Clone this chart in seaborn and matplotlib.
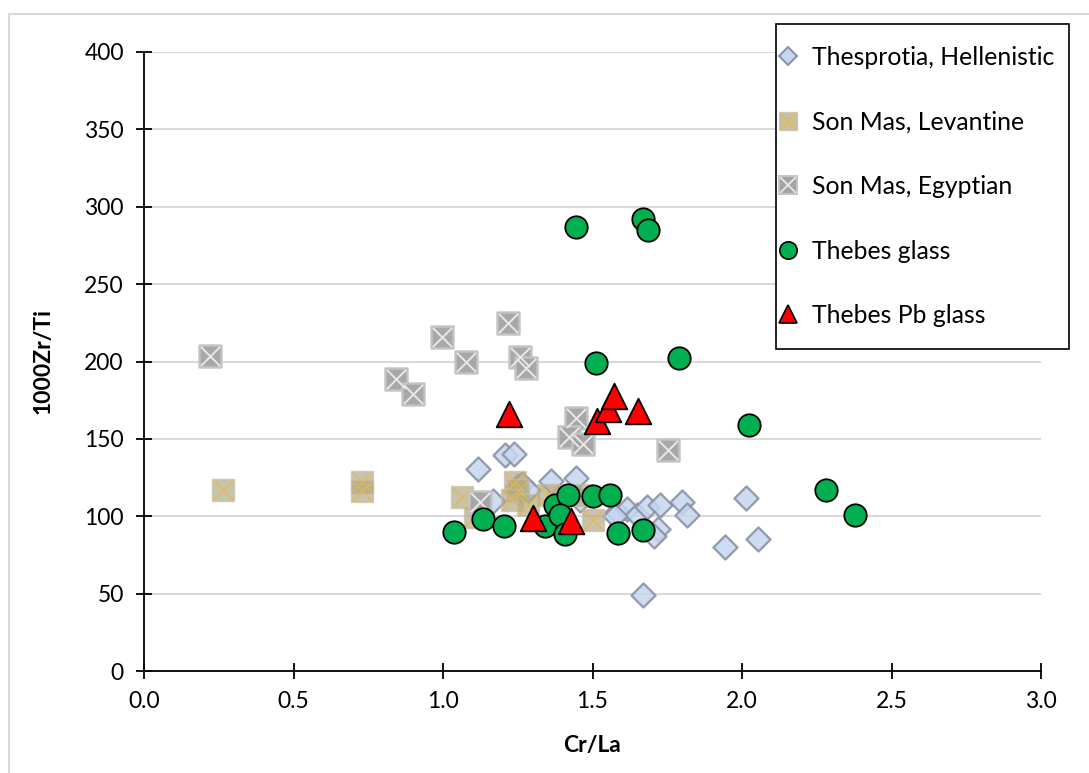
import numpy as np
import pandas as pd
import matplotlib
matplotlib.use("Agg")
import matplotlib.pyplot as plt
import seaborn as sns
from matplotlib.lines import Line2D
from matplotlib.patches import Rectangle

sns.set_theme(style="white")
plt.rcParams['font.family'] = ['Lato', 'DejaVu Sans']
plt.rcParams['text.color'] = 'black'
plt.rcParams['axes.labelcolor'] = 'black'
plt.rcParams['xtick.color'] = 'black'
plt.rcParams['ytick.color'] = 'black'

# ---------------- data ----------------
thes_x = [1.117, 1.207, 1.237, 1.167, 1.361, 1.445, 1.251, 1.264, 1.284, 1.458,
          1.582, 1.615, 1.649, 1.682, 1.726, 1.799, 1.816, 1.719, 1.706, 2.013,
          1.943, 2.054, 1.669, 1.575]
thes_y = [130.5, 139.5, 140, 110, 123, 125, 119.5, 121, 117, 110.5,
          103, 105, 101, 106, 107, 109, 101, 92, 87, 112,
          80, 85, 49, 100]

lev_x = [0.264, 0.729, 0.729, 1.064, 1.107, 1.241, 1.251, 1.231, 1.284, 1.351, 1.452, 1.502]
lev_y = [117, 122, 116, 112.5, 99.5, 122, 117, 110.5, 107, 114, 114, 97.5]

egy_x = [0.221, 0.997, 1.077, 0.843, 0.900, 1.217, 1.258, 1.278, 1.445, 1.421, 1.468, 1.753, 1.124]
egy_y = [203.5, 216, 200, 189, 179, 225, 203, 196, 163.5, 151, 147, 143, 109]

theb_x = [1.445, 1.669, 1.686, 1.512, 1.789, 2.023, 2.281, 2.378, 1.037, 1.134,
          1.204, 1.341, 1.375, 1.418, 1.391, 1.408, 1.502, 1.559, 1.585, 1.669]
theb_y = [287, 292, 285, 199, 202, 159, 117, 101, 90, 98,
          94, 94, 107, 114, 101, 88.5, 113, 114, 89, 91]

pb_x = [1.221, 1.515, 1.552, 1.572, 1.652, 1.301, 1.428]
pb_y = [166, 161.5, 169, 178, 168, 99, 97]

labels = ["Thesprotia, Hellenistic", "Son Mas, Levantine", "Son Mas, Egyptian",
          "Thebes glass", "Thebes Pb glass"]
x_ticks = [0.0, 0.5, 1.0, 1.5, 2.0, 2.5, 3.0]
y_ticks = [0, 50, 100, 150, 200, 250, 300, 350, 400]

df_thes = pd.DataFrame({"x": thes_x, "y": thes_y})
df_lev = pd.DataFrame({"x": lev_x, "y": lev_y})
df_egy = pd.DataFrame({"x": egy_x, "y": egy_y})
df_theb = pd.DataFrame({"x": theb_x, "y": theb_y})
df_pb = pd.DataFrame({"x": pb_x, "y": pb_y})

W, H = 1089, 773

# ---------------- figure ----------------
fig = plt.figure(figsize=(W/100, H/100), dpi=100)
ax = fig.add_axes([144/W, 1-671/H, (1041-144)/W, (671-52)/H])

ax.set_xlim(0, 3.0)
ax.set_ylim(0, 400)
ax.set_yticks(y_ticks)
ax.set_xticks(x_ticks)
ax.set_xticklabels([f"{v:.1f}" for v in x_ticks])
ax.set_yticklabels([str(v) for v in y_ticks])
ax.yaxis.grid(True, color="#d9d9d9", lw=1.5, zorder=0)
ax.xaxis.grid(False)
ax.set_axisbelow(True)

for s in ["top", "right"]:
    ax.spines[s].set_visible(False)
for s in ["left", "bottom"]:
    ax.spines[s].set_color("black")
    ax.spines[s].set_linewidth(1.3)
ax.tick_params(axis="both", direction="inout", length=11, width=1.3, color="black",
               labelsize=16.5, pad=9, left=True, bottom=True)

# Thesprotia diamonds
sns.scatterplot(data=df_thes, x="x", y="y", ax=ax, marker="D", s=150,
                color="#c6d6f0", edgecolor="#8690a3", linewidth=1.7, alpha=0.85, zorder=3)
# Levantine squares + yellow X
sns.scatterplot(data=df_lev, x="x", y="y", ax=ax, marker="s", s=260,
                color="#b3a88a", edgecolor="#c9bfa3", linewidth=1.0, alpha=0.7, zorder=4)
sns.scatterplot(data=df_lev, x="x", y="y", ax=ax, marker="x", s=200,
                color="#e6bc3c", linewidth=1.0, alpha=0.8, zorder=4)
# Egyptian squares + white X
sns.scatterplot(data=df_egy, x="x", y="y", ax=ax, marker="s", s=240,
                color="#a3a3a3", edgecolor="#c4c4c4", linewidth=1.8, alpha=0.95, zorder=5)
sns.scatterplot(data=df_egy, x="x", y="y", ax=ax, marker="x", s=190,
                color="#e8e8e8", linewidth=1.4, zorder=5)
# Thebes glass
sns.scatterplot(data=df_theb, x="x", y="y", ax=ax, marker="o", s=260,
                color="#00b050", edgecolor="black", linewidth=1.3, zorder=6)
# Thebes Pb glass
sns.scatterplot(data=df_pb, x="x", y="y", ax=ax, marker="^", s=340,
                color="#ff0000", edgecolor="black", linewidth=1.3, zorder=7)

ax.set_xlabel("Cr/La", fontsize=16.5, fontweight="bold")
ax.set_ylabel("1000Zr/Ti", fontsize=16.5, fontweight="bold")
ax.yaxis.set_label_coords(-0.101, 0.5)
ax.xaxis.set_label_coords(0.5, -0.103)

# legend
h_thes = Line2D([], [], ls="none", marker="D", ms=9, mfc="#c6d6f0", mec="#8690a3", mew=1.4)
h_lev = (Line2D([], [], ls="none", marker="s", ms=12.5, mfc="#b3a88a", mec="#c9bfa3", mew=1.0, alpha=0.75),
         Line2D([], [], ls="none", marker="x", ms=11.5, mec="#e6bc3c", mew=1.0))
h_egy = (Line2D([], [], ls="none", marker="s", ms=12.5, mfc="#a3a3a3", mec="#c4c4c4", mew=1.4),
         Line2D([], [], ls="none", marker="x", ms=11.5, mec="#e8e8e8", mew=1.3))
h_theb = Line2D([], [], ls="none", marker="o", ms=12.5, mfc="#00b050", mec="black", mew=1.2)
h_pb = Line2D([], [], ls="none", marker="^", ms=13.5, mfc="#ff0000", mec="black", mew=1.2)

fs_leg = 17.8
leg = ax.legend([h_thes, h_lev, h_egy, h_theb, h_pb], labels,
                loc="upper left", bbox_to_anchor=(777/W, 1-46/H),
                bbox_transform=fig.transFigure, frameon=False,
                fontsize=fs_leg, labelspacing=1.68, handlelength=0.9, handletextpad=0.52,
                borderpad=0.0, borderaxespad=0.0)
leg.set_zorder(10)

# legend frame drawn explicitly (inside axes so it sits beneath the legend)
frame = Rectangle((776/W, 1-349/H), (1069-776)/W, (349-24)/H,
                  transform=fig.transFigure, facecolor="white",
                  edgecolor="black", lw=1.2, zorder=9, clip_on=False)
ax.add_patch(frame)

# outer light frame
fig.patches.append(Rectangle((9/W, -0.05), 1.2, 1 - 14/H + 0.05,
                             transform=fig.transFigure, fill=False,
                             edgecolor="#d9d9d9", lw=1.5))

fig.savefig("out.png", dpi=100)
